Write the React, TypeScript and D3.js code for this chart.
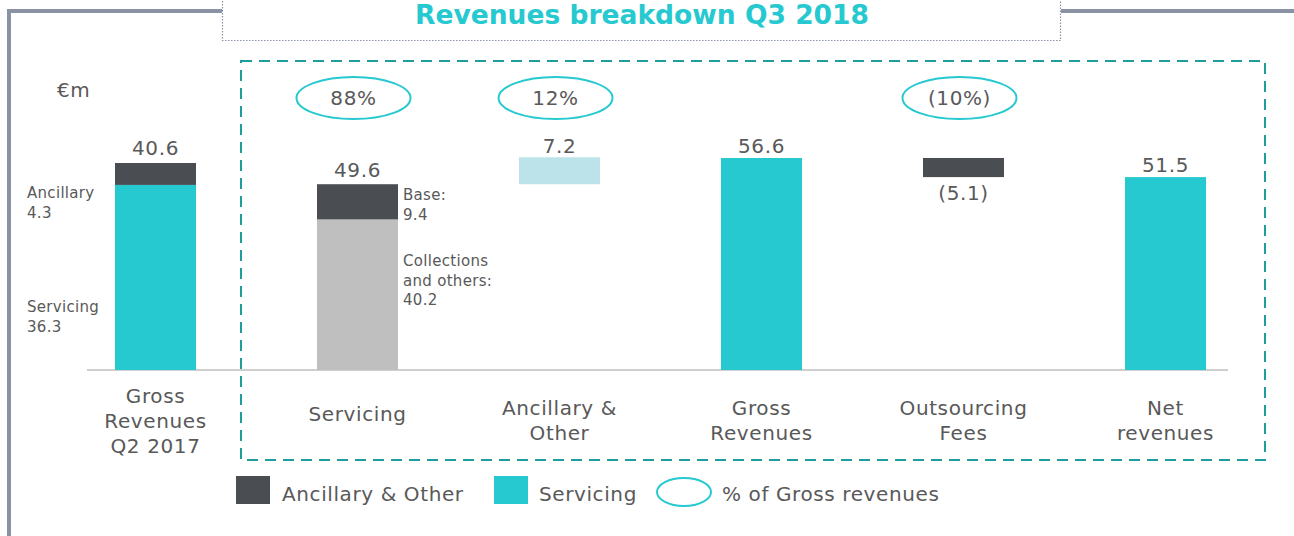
import React from "react";
import * as d3 from "d3";

const categories = ["Gross Revenues Q2 2017", "Servicing", "Ancillary & Other", "Gross Revenues", "Outsourcing Fees", "Net revenues"];
const categoryLines = [["Gross", "Revenues", "Q2 2017"], ["Servicing"], ["Ancillary &", "Other"], ["Gross", "Revenues"], ["Outsourcing", "Fees"], ["Net", "revenues"]];

// Q2 2017 stacked bar
const q2Servicing = 36.3;
const q2Ancillary = 4.3;
const q2Total = 40.6;

// Q3 2018 waterfall
const servicingCollections = 40.2;
const servicingBase = 9.4;
const servicingTotal = 49.6;
const ancillaryOther = 7.2;
const grossRevenues = 56.6;
const outsourcingFees = -5.1;
const netRevenues = 51.5;

const shareCategories = ["Servicing", "Ancillary & Other", "Outsourcing Fees"];
const shareLabels = ["88%", "12%", "(10%)"];

const legendItems = ["Ancillary & Other", "Servicing", "% of Gross revenues"];

const TEAL = "#26C9D0";
const DARK = "#4A4D52";
const LIGHTGRAY = "#BFBFBF";
const LIGHTBLUE = "#BDE3EA";
const TEXT = "#595959";
const FRAME = "#8A93A3";
const BOX = "#1E9C9E";
const FONT = "'DejaVu Sans', Verdana, sans-serif";
const LS = 0.6;
const LS_SMALL = 0.3;

export default function App() {
  const W = 1294, H = 536;
  const baseY = 370;
  const x = d3.scaleBand<string>().domain(categories).range([54.5, 1266.5]).paddingInner(1 - 81 / 202).paddingOuter((1 - 81 / 202) / 2);
  const bw = x.bandwidth();
  const cx = (c: string) => (x(c) as number) + bw / 2;
  const yL = d3.scaleLinear().domain([0, q2Total]).range([baseY, 163]);
  const yR = d3.scaleLinear().domain([0, grossRevenues]).range([baseY, 158]);

  const fmt = (v: number) => (v < 0 ? `(${Math.abs(v).toFixed(1)})` : v.toFixed(1));

  const ancStart = servicingTotal;
  const ancEnd = servicingTotal + ancillaryOther;
  const outStart = grossRevenues;
  const outEnd = grossRevenues + outsourcingFees;
  const sx = (x("Servicing") as number) + bw + 5;

  return (
    <svg width={W} height={H} style={{ position: "absolute", left: 0, top: 0 }} fontFamily={FONT}>
      <rect width={W} height={H} fill="#fff" />
      {/* Frame */}
      <line x1={9} y1={9} x2={9} y2={H} stroke={FRAME} strokeWidth={4} />
      <line x1={7} y1={11} x2={222} y2={11} stroke={FRAME} strokeWidth={4} />
      <line x1={1061} y1={11} x2={W} y2={11} stroke={FRAME} strokeWidth={4} />
      <path d="M222.5,-2 V40.5 H1060.5 V-2" fill="#fff" stroke={FRAME} strokeWidth={1.2} strokeDasharray="1.5 1.5" />
      <text x={642} y={24} textAnchor="middle" fill={TEAL} fontWeight="bold" fontSize={27} textLength={454} lengthAdjust="spacingAndGlyphs">Revenues breakdown Q3 2018</text>

      {/* Dashed box */}
      <rect x={241} y={61} width={1024} height={399} fill="none" stroke={BOX} strokeWidth={2} strokeDasharray="11 7" />

      <text x={57} y={97} fill={TEXT} fontSize={20} letterSpacing={LS}>€m</text>

      {/* baseline */}
      <line x1={87} x2={1228} y1={baseY} y2={baseY} stroke="#BFBFBF" strokeWidth={1.5} />

      {/* Q2 2017 bar */}
      <rect x={x(categories[0])} width={bw} y={yL(q2Servicing)} height={baseY - yL(q2Servicing)} fill={TEAL} />
      <rect x={x(categories[0])} width={bw} y={yL(q2Total)} height={yL(q2Servicing) - yL(q2Total)} fill={DARK} />
      <text x={cx(categories[0])} y={yL(q2Total) - 8} textAnchor="middle" fill={TEXT} fontSize={20} letterSpacing={LS}>{fmt(q2Total)}</text>
      <text fill={TEXT} fontSize={15} letterSpacing={LS_SMALL}>
        <tspan x={27} y={198}>Ancillary</tspan>
        <tspan x={27} y={218}>{q2Ancillary.toFixed(1)}</tspan>
      </text>
      <text fill={TEXT} fontSize={15} letterSpacing={LS_SMALL}>
        <tspan x={27} y={312}>Servicing</tspan>
        <tspan x={27} y={332}>{q2Servicing.toFixed(1)}</tspan>
      </text>

      {/* Servicing stacked */}
      <rect x={x("Servicing")} width={bw} y={yR(servicingCollections)} height={baseY - yR(servicingCollections)} fill={LIGHTGRAY} />
      <rect x={x("Servicing")} width={bw} y={yR(servicingTotal)} height={yR(servicingCollections) - yR(servicingTotal)} fill={DARK} />
      <text x={cx("Servicing")} y={yR(servicingTotal) - 7} textAnchor="middle" fill={TEXT} fontSize={20} letterSpacing={LS}>{fmt(servicingTotal)}</text>
      <text fill={TEXT} fontSize={15} letterSpacing={LS_SMALL}>
        <tspan x={sx} y={200}>Base:</tspan>
        <tspan x={sx} y={220}>{servicingBase.toFixed(1)}</tspan>
      </text>
      <text fill={TEXT} fontSize={15} letterSpacing={LS_SMALL}>
        <tspan x={sx} y={266}>Collections</tspan>
        <tspan x={sx} y={286}>and others:</tspan>
        <tspan x={sx} y={305}>{servicingCollections.toFixed(1)}</tspan>
      </text>

      {/* Ancillary & Other floating */}
      <rect x={x("Ancillary & Other")} width={bw} y={yR(ancEnd)} height={yR(ancStart) - yR(ancEnd)} fill={LIGHTBLUE} />
      <text x={cx("Ancillary & Other")} y={yR(ancEnd) - 4} textAnchor="middle" fill={TEXT} fontSize={20} letterSpacing={LS}>{fmt(ancillaryOther)}</text>

      {/* Gross revenues */}
      <rect x={x("Gross Revenues")} width={bw} y={yR(grossRevenues)} height={baseY - yR(grossRevenues)} fill={TEAL} />
      <text x={cx("Gross Revenues")} y={yR(grossRevenues) - 5} textAnchor="middle" fill={TEXT} fontSize={20} letterSpacing={LS}>{fmt(grossRevenues)}</text>

      {/* Outsourcing fees */}
      <rect x={x("Outsourcing Fees")} width={bw} y={yR(outStart)} height={yR(outEnd) - yR(outStart)} fill={DARK} />
      <text x={cx("Outsourcing Fees")} y={yR(outEnd) + 23} textAnchor="middle" fill={TEXT} fontSize={20} letterSpacing={LS}>{fmt(outsourcingFees)}</text>

      {/* Net revenues */}
      <rect x={x("Net revenues")} width={bw} y={yR(netRevenues)} height={baseY - yR(netRevenues)} fill={TEAL} />
      <text x={cx("Net revenues")} y={yR(netRevenues) - 5} textAnchor="middle" fill={TEXT} fontSize={20} letterSpacing={LS}>{fmt(netRevenues)}</text>

      {/* Share ellipses */}
      {shareCategories.map((c, i) => (
        <g key={c}>
          <ellipse cx={cx(c) - 4} cy={98} rx={57} ry={21} fill="none" stroke={TEAL} strokeWidth={2} />
          <text x={cx(c) - 4} y={105} textAnchor="middle" fill={TEXT} fontSize={20} letterSpacing={LS}>{shareLabels[i]}</text>
        </g>
      ))}

      {/* Category labels */}
      {categories.map((c, i) => {
        const lines = categoryLines[i];
        const startY = i === 0 ? 403 : lines.length === 1 ? 421 : 415;
        return (
          <text key={c} textAnchor="middle" fill={TEXT} fontSize={20} letterSpacing={LS}>
            {lines.map((l, j) => (
              <tspan key={j} x={cx(c)} y={startY + j * 25}>{l}</tspan>
            ))}
          </text>
        );
      })}

      {/* Legend */}
      <rect x={236} y={476} width={34} height={28} fill={DARK} />
      <text x={282} y={501} fill={TEXT} fontSize={20} letterSpacing={LS}>{legendItems[0]}</text>
      <rect x={494} y={476} width={34} height={28} fill={TEAL} />
      <text x={539} y={501} fill={TEXT} fontSize={20} letterSpacing={LS}>{legendItems[1]}</text>
      <ellipse cx={684} cy={492} rx={27} ry={14} fill="none" stroke={TEAL} strokeWidth={2} />
      <text x={722} y={501} fill={TEXT} fontSize={20} letterSpacing={LS}>{legendItems[2]}</text>
    </svg>
  );
}
